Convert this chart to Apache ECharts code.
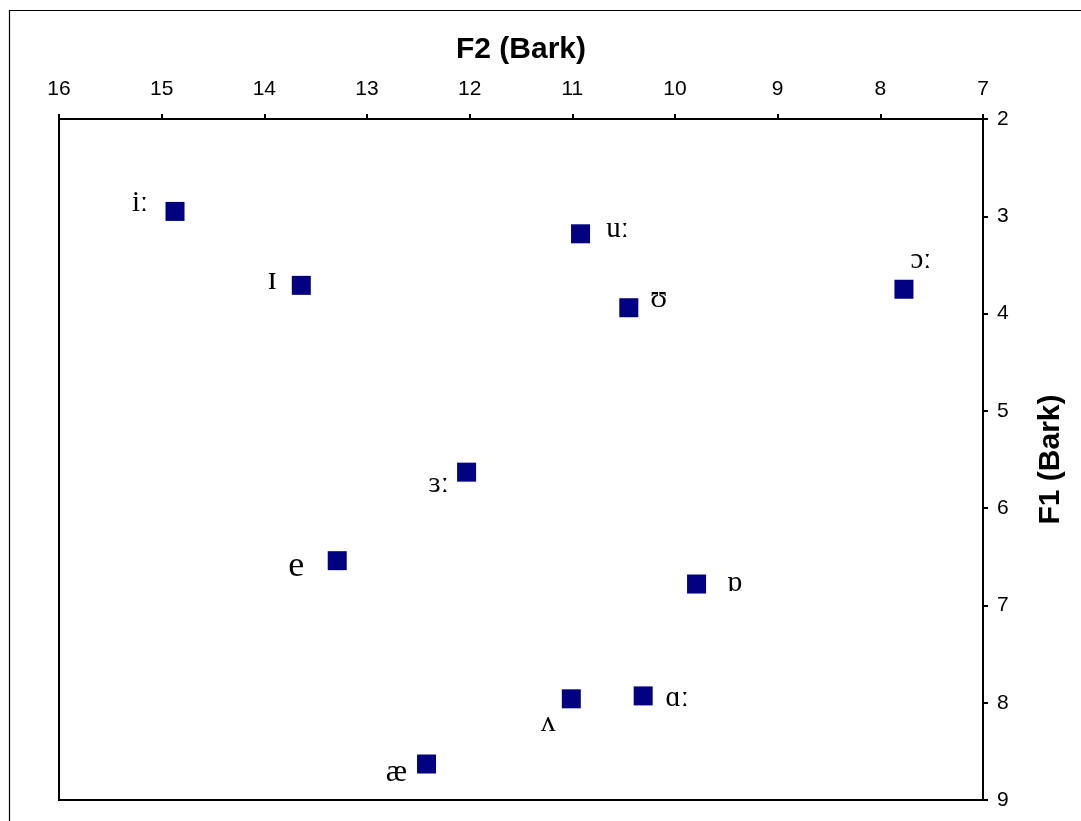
<!DOCTYPE html>
<html>
<head>
<meta charset="utf-8">
<script src="https://cdn.jsdelivr.net/npm/echarts@6/dist/echarts.min.js"></script>
<style>
html,body{margin:0;padding:0;background:#fff;}
#chart{width:1081px;height:821px;}
</style>
</head>
<body>
<div id="chart"></div>
<script>
// Vowel data (Bark)
const vowels = ['iː', 'ɪ', 'uː', 'ʊ', 'ɔː', 'ɜː', 'e', 'ɒ', 'ʌ', 'ɑː', 'æ'];
const f2Values = [14.87, 13.64, 10.92, 10.45, 7.77, 12.03, 13.29, 9.79, 11.01, 10.31, 12.42];
const f1Values = [2.95, 3.71, 3.18, 3.94, 3.75, 5.63, 6.54, 6.78, 7.96, 7.93, 8.63];
const xTicks = [16, 15, 14, 13, 12, 11, 10, 9, 8, 7];
const yTicks = [2, 3, 4, 5, 6, 7, 8, 9];

// label placement (layout only)
const labelOffsets = [[-35,-8],[-29,-5],[37,-4],[30,-9],[17,-29],[-28,12],[-41,6],[38,-1],[-23,25],[34,2],[-30,9]];
const labelSizes = [29,34,29,31,29,29,36,29,29,29,32];

const chart = echarts.init(document.getElementById('chart'), null, {renderer:'canvas'});
const data = vowels.map((v, i) => ({
  name: v,
  value: [f2Values[i], f1Values[i]],
  label: {offset: labelOffsets[i], fontSize: labelSizes[i]}
}));

const tickFont = {fontFamily: 'Liberation Sans, Arial, sans-serif', fontSize: 21, color: '#000'};
const titleFont = {fontFamily: 'Liberation Sans, Arial, sans-serif', fontSize: 30, fontWeight: 'bold', color: '#000'};

chart.setOption({
  backgroundColor: '#fff',
  animation: false,
  graphic: [{
    type: 'rect', silent: true,
    shape: {x: 9.5, y: 10.5, width: 1200, height: 1200},
    style: {fill: 'none', stroke: '#000', lineWidth: 1.2}
  }],
  grid: {left: 59, right: 98, top: 119, bottom: 21, show: true, borderColor: '#000', borderWidth: 2, backgroundColor: 'transparent'},
  xAxis: {
    type: 'value', position: 'top', inverse: true,
    min: 7, max: 16, interval: 1,
    name: 'F2 (Bark)', nameLocation: 'middle', nameGap: 54,
    nameTextStyle: titleFont,
    axisLine: {show: true, lineStyle: {color: '#000', width: 2}},
    axisTick: {show: true, length: 5, lineStyle: {color: '#000', width: 2}},
    axisLabel: Object.assign({margin: 19, formatter: v => xTicks.includes(v) ? String(v) : ''}, tickFont),
    splitLine: {show: false}
  },
  yAxis: {
    type: 'value', position: 'right', inverse: true,
    min: 2, max: 9, interval: 1,
    name: 'F1 (Bark)', nameLocation: 'middle', nameGap: 53, nameRotate: 90,
    nameTextStyle: titleFont,
    axisLine: {show: true, lineStyle: {color: '#000', width: 2}},
    axisTick: {show: true, length: 5, lineStyle: {color: '#000', width: 2}},
    axisLabel: Object.assign({margin: 14, formatter: v => yTicks.includes(v) ? String(v) : ''}, tickFont),
    splitLine: {show: false}
  },
  series: [{
    type: 'scatter',
    symbol: 'rect',
    symbolSize: 19,
    itemStyle: {color: '#000080', opacity: 1},
    data: data,
    label: {
      show: true,
      position: 'inside',
      formatter: p => p.name,
      fontFamily: 'Liberation Serif, DejaVu Serif, Times New Roman, serif',
      fontSize: 29,
      color: '#000',
      align: 'center',
      verticalAlign: 'middle'
    }
  }]
});
</script>
</body>
</html>
